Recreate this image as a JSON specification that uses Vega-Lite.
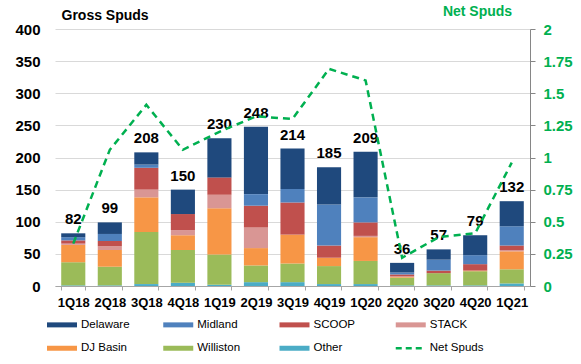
{
  "$schema": "https://vega.github.io/schema/vega-lite/v6.json",
  "width": 475,
  "height": 257,
  "autosize": {"type": "none"},
  "padding": {"left": 55, "top": 29, "right": 51, "bottom": 78},
  "config": {"view": {"stroke": null}, "font": "Liberation Sans"},
  "datasets": {
    "gross": [
      {"q": "1Q18", "series": "Other", "value": 1}, {"q": "1Q18", "series": "Williston", "value": 36}, {"q": "1Q18", "series": "DJ Basin", "value": 27}, {"q": "1Q18", "series": "STACK", "value": 2}, {"q": "1Q18", "series": "SCOOP", "value": 5}, {"q": "1Q18", "series": "Midland", "value": 5}, {"q": "1Q18", "series": "Delaware", "value": 6},
      {"q": "2Q18", "series": "Other", "value": 1}, {"q": "2Q18", "series": "Williston", "value": 29}, {"q": "2Q18", "series": "DJ Basin", "value": 26}, {"q": "2Q18", "series": "STACK", "value": 6}, {"q": "2Q18", "series": "SCOOP", "value": 8}, {"q": "2Q18", "series": "Midland", "value": 11}, {"q": "2Q18", "series": "Delaware", "value": 18},
      {"q": "3Q18", "series": "Other", "value": 3}, {"q": "3Q18", "series": "Williston", "value": 81}, {"q": "3Q18", "series": "DJ Basin", "value": 54}, {"q": "3Q18", "series": "STACK", "value": 12}, {"q": "3Q18", "series": "SCOOP", "value": 34}, {"q": "3Q18", "series": "Midland", "value": 5}, {"q": "3Q18", "series": "Delaware", "value": 19},
      {"q": "4Q18", "series": "Other", "value": 5}, {"q": "4Q18", "series": "Williston", "value": 51}, {"q": "4Q18", "series": "DJ Basin", "value": 23}, {"q": "4Q18", "series": "STACK", "value": 8}, {"q": "4Q18", "series": "SCOOP", "value": 25}, {"q": "4Q18", "series": "Midland", "value": 0}, {"q": "4Q18", "series": "Delaware", "value": 38},
      {"q": "1Q19", "series": "Other", "value": 2}, {"q": "1Q19", "series": "Williston", "value": 47}, {"q": "1Q19", "series": "DJ Basin", "value": 72}, {"q": "1Q19", "series": "STACK", "value": 21}, {"q": "1Q19", "series": "SCOOP", "value": 27}, {"q": "1Q19", "series": "Midland", "value": 0}, {"q": "1Q19", "series": "Delaware", "value": 61},
      {"q": "2Q19", "series": "Other", "value": 6}, {"q": "2Q19", "series": "Williston", "value": 26}, {"q": "2Q19", "series": "DJ Basin", "value": 27}, {"q": "2Q19", "series": "STACK", "value": 32}, {"q": "2Q19", "series": "SCOOP", "value": 34}, {"q": "2Q19", "series": "Midland", "value": 18}, {"q": "2Q19", "series": "Delaware", "value": 105},
      {"q": "3Q19", "series": "Other", "value": 6}, {"q": "3Q19", "series": "Williston", "value": 29}, {"q": "3Q19", "series": "DJ Basin", "value": 45}, {"q": "3Q19", "series": "STACK", "value": 0}, {"q": "3Q19", "series": "SCOOP", "value": 50}, {"q": "3Q19", "series": "Midland", "value": 21}, {"q": "3Q19", "series": "Delaware", "value": 63},
      {"q": "4Q19", "series": "Other", "value": 3}, {"q": "4Q19", "series": "Williston", "value": 28}, {"q": "4Q19", "series": "DJ Basin", "value": 13}, {"q": "4Q19", "series": "STACK", "value": 0}, {"q": "4Q19", "series": "SCOOP", "value": 19}, {"q": "4Q19", "series": "Midland", "value": 64}, {"q": "4Q19", "series": "Delaware", "value": 58},
      {"q": "1Q20", "series": "Other", "value": 3}, {"q": "1Q20", "series": "Williston", "value": 36}, {"q": "1Q20", "series": "DJ Basin", "value": 37}, {"q": "1Q20", "series": "STACK", "value": 2}, {"q": "1Q20", "series": "SCOOP", "value": 21}, {"q": "1Q20", "series": "Midland", "value": 39}, {"q": "1Q20", "series": "Delaware", "value": 71},
      {"q": "2Q20", "series": "Other", "value": 1}, {"q": "2Q20", "series": "Williston", "value": 12}, {"q": "2Q20", "series": "DJ Basin", "value": 1}, {"q": "2Q20", "series": "STACK", "value": 1}, {"q": "2Q20", "series": "SCOOP", "value": 3}, {"q": "2Q20", "series": "Midland", "value": 3}, {"q": "2Q20", "series": "Delaware", "value": 15},
      {"q": "3Q20", "series": "Other", "value": 1}, {"q": "3Q20", "series": "Williston", "value": 19}, {"q": "3Q20", "series": "DJ Basin", "value": 0}, {"q": "3Q20", "series": "STACK", "value": 0}, {"q": "3Q20", "series": "SCOOP", "value": 4}, {"q": "3Q20", "series": "Midland", "value": 17}, {"q": "3Q20", "series": "Delaware", "value": 16},
      {"q": "4Q20", "series": "Other", "value": 1}, {"q": "4Q20", "series": "Williston", "value": 22}, {"q": "4Q20", "series": "DJ Basin", "value": 1}, {"q": "4Q20", "series": "STACK", "value": 0}, {"q": "4Q20", "series": "SCOOP", "value": 10}, {"q": "4Q20", "series": "Midland", "value": 14}, {"q": "4Q20", "series": "Delaware", "value": 31},
      {"q": "1Q21", "series": "Other", "value": 4}, {"q": "1Q21", "series": "Williston", "value": 22}, {"q": "1Q21", "series": "DJ Basin", "value": 28}, {"q": "1Q21", "series": "STACK", "value": 2}, {"q": "1Q21", "series": "SCOOP", "value": 7}, {"q": "1Q21", "series": "Midland", "value": 30}, {"q": "1Q21", "series": "Delaware", "value": 39}
    ],
    "net": [
      {"q": "1Q18", "net": 0.33}, {"q": "2Q18", "net": 1.06}, {"q": "3Q18", "net": 1.41}, {"q": "4Q18", "net": 1.06},
      {"q": "1Q19", "net": 1.2}, {"q": "2Q19", "net": 1.32}, {"q": "3Q19", "net": 1.3}, {"q": "4Q19", "net": 1.69},
      {"q": "1Q20", "net": 1.6}, {"q": "2Q20", "net": 0.22}, {"q": "3Q20", "net": 0.38}, {"q": "4Q20", "net": 0.41},
      {"q": "1Q21", "net": 0.96}
    ]
  },
  "layer": [
    {
      "layer": [
        {
          "data": {"name": "gross"},
          "transform": [
            {"calculate": "indexof(['Other','Williston','DJ Basin','STACK','SCOOP','Midland','Delaware'], datum.series)", "as": "stackOrder"}
          ],
          "mark": {"type": "bar"},
          "encoding": {
            "x": {
              "field": "q", "type": "ordinal",
              "sort": ["1Q18","2Q18","3Q18","4Q18","1Q19","2Q19","3Q19","4Q19","1Q20","2Q20","3Q20","4Q20","1Q21"],
              "scale": {"paddingInner": 0.34, "paddingOuter": 0.17},
              "axis": {
                "title": null, "labelAngle": 0, "labelFontSize": 13, "labelFontWeight": "bold", "labelColor": "black",
                "domainColor": "#A6A6A6", "tickColor": "#A6A6A6", "tickSize": 4, "tickBand": "extent", "labelPadding": 6
              }
            },
            "y": {
              "field": "value", "type": "quantitative",
              "scale": {"domain": [0, 400], "nice": false},
              "axis": {
                "title": "Gross Spuds", "titleAngle": 0, "titleAlign": "left", "titleBaseline": "alphabetic",
                "titleX": 6, "titleY": -10, "titleFontSize": 14, "titleFontWeight": "bold", "titleColor": "black",
                "values": [0, 50, 100, 150, 200, 250, 300, 350, 400], "labelOverlap": false,
                "grid": true, "gridColor": "#D9D9D9", "domain": false, "ticks": false,
                "labelFontSize": 15, "labelFontWeight": "bold", "labelColor": "black", "labelPadding": 15
              }
            },
            "color": {
              "field": "series", "type": "nominal",
              "scale": {
                "domain": ["Delaware", "Midland", "SCOOP", "STACK", "DJ Basin", "Williston", "Other", "Net Spuds"],
                "range": ["#1F497D", "#4F81BD", "#C0504D", "#D99694", "#F79646", "#9BBB59", "#4BACC6", "#00B050"]
              },
              "legend": {
                "orient": "none", "legendX": 1.25, "legendY": 290, "direction": "horizontal", "columns": 4, "title": null,
                "symbolType": "stroke", "symbolSize": 900, "symbolStrokeWidth": 5,
                "labelFontSize": 11.5, "labelColor": "black", "labelFont": "Liberation Sans", "labelOffset": 13.25,
                "columnPadding": 17.25, "rowPadding": 2.5, "gridAlign": "all",
                "encode": {
                  "symbols": {
                    "update": {
                      "size": {"value": 900},
                      "stroke": {"scale": "color", "field": "value"},
                      "fill": {"value": "transparent"},
                      "strokeWidth": {"signal": "datum.value === 'Net Spuds' ? 2.5 : 5"},
                      "strokeDash": {"signal": "datum.value === 'Net Spuds' ? [6, 4] : []"}
                    }
                  }
                }
              }
            },
            "order": {"field": "stackOrder", "type": "quantitative"}
          }
        },
        {
          "data": {"name": "gross"},
          "mark": {"type": "text", "dy": -9, "baseline": "alphabetic", "fontSize": 15, "fontWeight": "bold", "color": "black"},
          "encoding": {
            "x": {"field": "q", "type": "ordinal", "sort": ["1Q18","2Q18","3Q18","4Q18","1Q19","2Q19","3Q19","4Q19","1Q20","2Q20","3Q20","4Q20","1Q21"]},
            "y": {
              "aggregate": "sum", "field": "value", "type": "quantitative",
              "axis": {
                "title": "Gross Spuds", "titleAngle": 0, "titleAlign": "left", "titleBaseline": "alphabetic",
                "titleX": 6, "titleY": -10, "titleFontSize": 14, "titleFontWeight": "bold", "titleColor": "black",
                "values": [0, 50, 100, 150, 200, 250, 300, 350, 400], "labelOverlap": false,
                "grid": true, "gridColor": "#D9D9D9", "domain": false, "ticks": false,
                "labelFontSize": 15, "labelFontWeight": "bold", "labelColor": "black", "labelPadding": 15
              }
            },
            "text": {"aggregate": "sum", "field": "value", "type": "quantitative"}
          }
        }
      ]
    },
    {
      "data": {"name": "net"},
      "mark": {"type": "line", "strokeDash": [7, 5], "strokeWidth": 2.5},
      "encoding": {
        "x": {"field": "q", "type": "ordinal", "sort": ["1Q18","2Q18","3Q18","4Q18","1Q19","2Q19","3Q19","4Q19","1Q20","2Q20","3Q20","4Q20","1Q21"]},
        "y": {
          "field": "net", "type": "quantitative",
          "scale": {"domain": [0, 2], "nice": false},
          "axis": {
            "orient": "right", "title": "Net Spuds", "titleAngle": 0, "titleAlign": "center", "titleBaseline": "alphabetic",
            "titleX": -53, "titleY": -14, "titleColor": "#00B050", "titleFontSize": 14, "titleFontWeight": "bold",
            "values": [0, 0.25, 0.5, 0.75, 1, 1.25, 1.5, 1.75, 2], "format": ".3~g", "labelOverlap": false,
            "grid": false, "domain": true, "domainColor": "#868686", "ticks": true, "tickColor": "#868686", "tickSize": 5,
            "labelColor": "#00B050", "labelFontSize": 15, "labelFontWeight": "bold", "labelPadding": 8
          }
        },
        "color": {"datum": "Net Spuds", "type": "nominal"}
      }
    }
  ],
  "resolve": {"scale": {"y": "independent"}}
}
